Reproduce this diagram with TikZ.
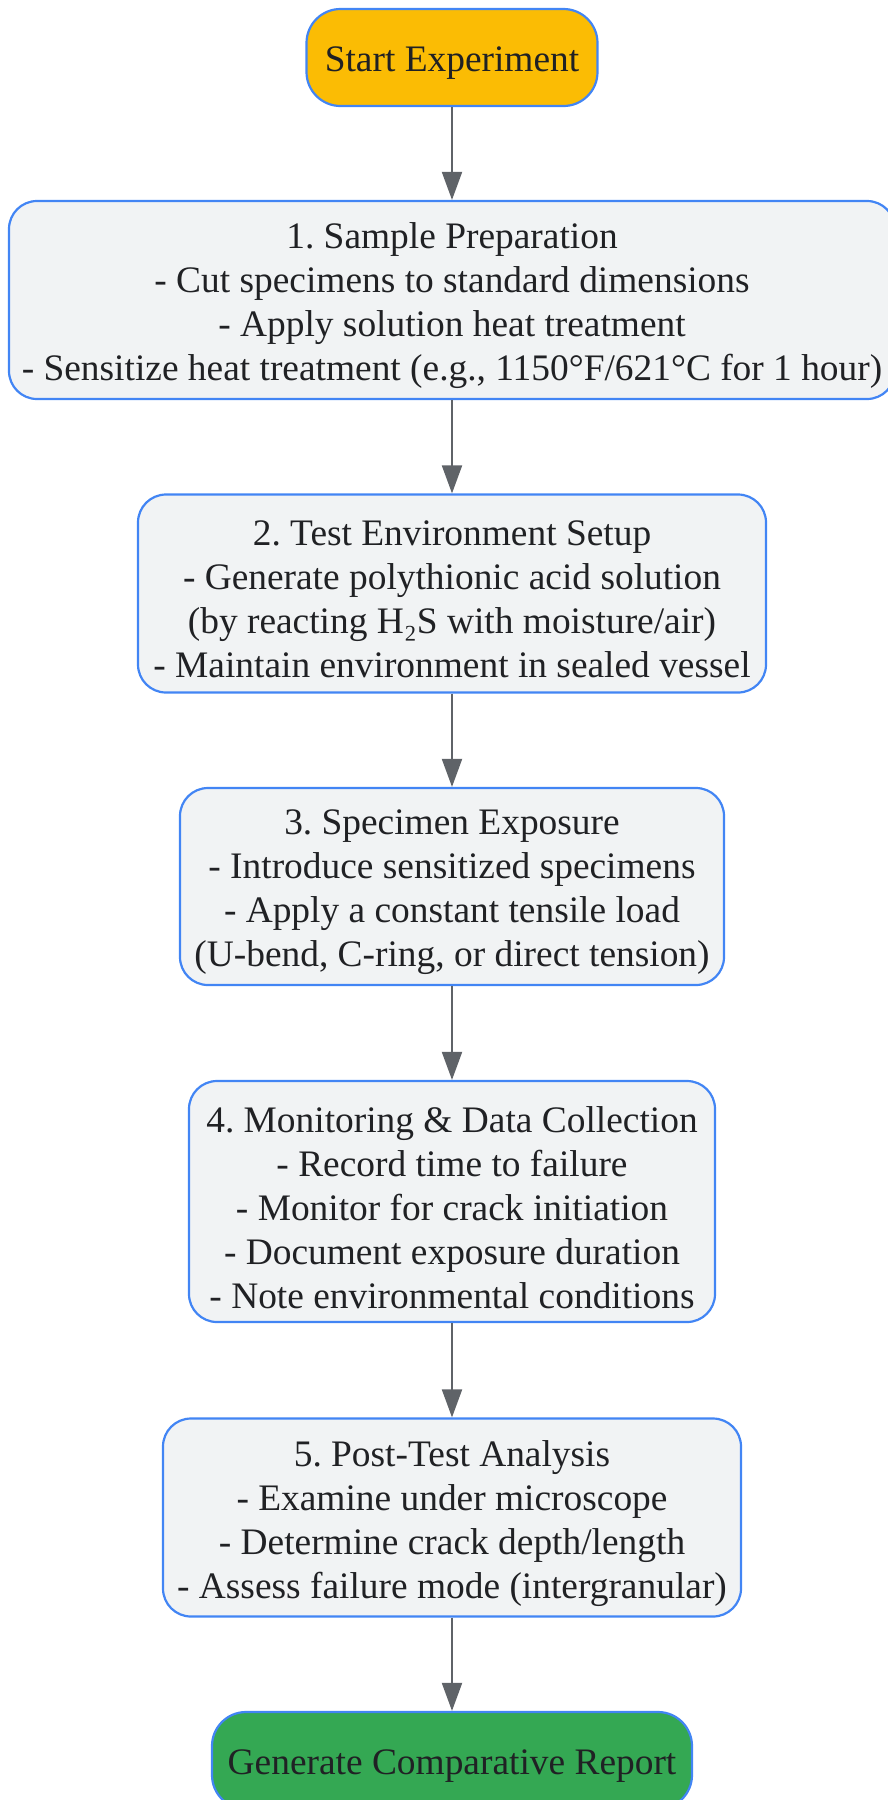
\documentclass[tikz,border=0pt]{standalone}
\usepackage{fontspec}
\setmainfont{Liberation Serif}
\usetikzlibrary{arrows.meta}
\definecolor{bordblue}{HTML}{4285F4}
\definecolor{boxfill}{HTML}{F1F3F4}
\definecolor{startfill}{HTML}{FBBC04}
\definecolor{endfill}{HTML}{34A853}
\definecolor{arrowgray}{HTML}{5F6368}
\definecolor{txt}{HTML}{202124}
\frenchspacing
\begin{document}
\begin{tikzpicture}[x=1pt,y=-1pt,
  base/.style={draw=bordblue, line width=2.2pt, inner sep=0pt},
  stepbox/.style={base, fill=boxfill, rounded corners=28pt},
  termbox/.style={base, rounded corners=34pt},
  label text/.style={text=txt, align=center, inner sep=0pt,
    font=\fontsize{37.4}{44}\selectfont},
  flow/.style={draw=arrowgray, line width=2pt, -{Triangle[length=28pt,width=20pt]}}]
\useasboundingbox (0,0) rectangle (887,1800);
\node[termbox, fill=startfill, minimum width=291pt, minimum height=97pt] (start) at (452,57.5) {};
\node[stepbox, minimum width=886pt, minimum height=198pt] (s1) at (452,300) {};
\node[stepbox, minimum width=628pt, minimum height=198pt] (s2) at (452,593.5) {};
\node[stepbox, minimum width=544pt, minimum height=197pt] (s3) at (452,886.5) {};
\node[stepbox, minimum width=526pt, minimum height=241pt] (s4) at (452,1201.5) {};
\node[stepbox, minimum width=578pt, minimum height=198pt] (s5) at (452,1517.5) {};
\node[termbox, fill=endfill, minimum width=480pt, minimum height=97pt] (end) at (452,1760.5) {};
\node[label text] (startT) at ([yshift=-6pt]start.center) {Start Experiment};
\node[label text] (s1T) at ([yshift=-6pt]s1.center) {1. Sample Preparation\\- Cut specimens to standard dimensions\\- Apply solution heat treatment\\- Sensitize heat treatment (e.g., 1150°F/621°C for 1 hour)};
\node[label text] (s2T) at ([yshift=-6pt]s2.center) {2. Test Environment Setup\\- Generate polythionic acid solution\\(by reacting H₂S with moisture/air)\\- Maintain environment in sealed vessel};
\node[label text] (s3T) at ([yshift=-6pt]s3.center) {3. Specimen Exposure\\- Introduce sensitized specimens\\- Apply a constant tensile load\\(U-bend, C-ring, or direct tension)};
\node[label text] (s4T) at ([yshift=-6pt]s4.center) {4. Monitoring \& Data Collection\\- Record time to failure\\- Monitor for crack initiation\\- Document exposure duration\\- Note environmental conditions};
\node[label text] (s5T) at ([yshift=-6pt]s5.center) {5. Post-Test Analysis\\- Examine under microscope\\- Determine crack depth/length\\- Assess failure mode (intergranular)};
\node[label text] (endT) at ([yshift=-6pt]end.center) {Generate Comparative Report};
\draw[flow] (start) -- (s1);
\draw[flow] (s1) -- (s2);
\draw[flow] (s2) -- (s3);
\draw[flow] (s3) -- (s4);
\draw[flow] (s4) -- (s5);
\draw[flow] (s5) -- (end);
\end{tikzpicture}
\end{document}
